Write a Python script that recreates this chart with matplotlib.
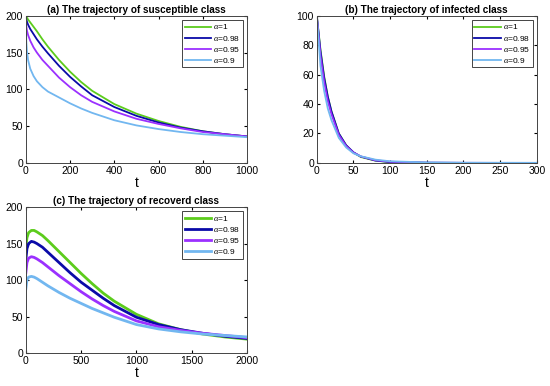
import matplotlib
matplotlib.use("Agg")
import matplotlib.pyplot as plt

plt.rcParams['font.family'] = ['Liberation Sans', 'DejaVu Sans']
plt.rcParams['mathtext.fontset'] = 'custom'
plt.rcParams['mathtext.it'] = 'Liberation Serif:italic'

# colours / labels
colors = ['#5ccc1c', '#0a0aa8', '#9b30ff', '#72b7f0']
labels = [r'$\alpha$=1', r'$\alpha$=0.98', r'$\alpha$=0.95', r'$\alpha$=0.9']

# (a) susceptible
tS = [0, 2, 5, 10, 20, 35, 50, 75, 100, 150, 200, 250, 300, 400, 500, 600, 700, 800, 900, 1000]
S1 = [200, 199, 197.5, 195, 191, 185, 179, 168, 158, 140, 124, 110, 98, 80, 67, 57, 49, 43, 39, 36]
S098 = [200, 195, 192, 188, 182, 175, 168, 158, 149, 132, 117, 104, 92, 76, 64, 55, 48, 43, 39, 36]
S095 = [200, 186, 180, 174, 166, 157, 150, 140, 132, 116, 103, 92, 83, 70, 60, 53, 47, 42, 39, 36]
S09 = [200, 165, 152, 140, 128, 118, 111, 103, 97, 89, 81, 74, 68, 58, 51, 46, 42, 39, 37, 35]

# (b) infected
tI = [0, 5, 10, 15, 20, 30, 40, 50, 60, 80, 100, 150, 200, 250, 300]
I1 = [100, 77, 59, 45, 35, 20, 12, 7, 4, 1.5, 0.5, 0.05, 0, 0, 0]
I098 = [100, 76, 58, 45, 35, 20, 12, 7.2, 4.3, 1.6, 0.6, 0.1, 0, 0, 0]
I095 = [100, 73, 55, 42, 33, 19, 11.5, 7, 4.4, 1.8, 0.8, 0.15, 0.05, 0, 0]
I09 = [100, 66, 49, 37, 29, 17, 10.5, 6.5, 4.5, 2.2, 1.1, 0.3, 0.1, 0.05, 0]

# (c) recovered
tR = [0, 10, 25, 50, 75, 100, 150, 200, 300, 400, 500, 600, 700, 800, 1000, 1200, 1400, 1600, 1800, 2000]
R1 = [145, 158, 165, 168, 168, 166, 161, 154, 139, 124, 109, 95, 82, 71, 53, 40, 32, 26, 22, 19]
R098 = [128, 143, 150, 153, 152, 150, 145, 138, 124, 110, 97, 86, 75, 65, 49, 39, 32, 27, 23, 20]
R095 = [110, 124, 130, 132, 131, 129, 124, 118, 106, 95, 84, 74, 65, 57, 44, 36, 31, 27, 24, 21]
R09 = [88, 100, 104, 105, 104, 102, 97, 92, 83, 75, 68, 61, 55, 49, 39, 33, 29, 26, 24, 22]

fig = plt.figure(figsize=(5.5, 3.86), dpi=100)
ax_a = fig.add_axes([0.047, 0.578, 0.402, 0.381])
ax_b = fig.add_axes([0.576, 0.578, 0.400, 0.381])
ax_c = fig.add_axes([0.047, 0.0855, 0.402, 0.378])

panels = [
    (ax_a, tS, [S1, S098, S095, S09], '(a) The trajectory of susceptible class', 1000, 200, 200, 50, 1.3),
    (ax_b, tI, [I1, I098, I095, I09], '(b) The trajectory of infected class', 300, 50, 100, 20, 1.3),
    (ax_c, tR, [R1, R098, R095, R09], '(c) The trajectory of recoverd class', 2000, 500, 200, 50, 2.0),
]

for ax, t, ys, title, xmax, xstep, ymax, ystep, lw in panels:
    for y, c, lab in zip(ys, colors, labels):
        ax.plot(t, y, color=c, lw=lw, label=lab)
    ax.set_xlim(0, xmax)
    ax.set_ylim(0, ymax)
    ax.set_xticks(range(0, xmax + 1, xstep))
    ax.set_yticks(range(0, ymax + 1, ystep))
    ax.tick_params(direction='in', top=True, right=True, labelsize=7.5, length=2.5, pad=2)
    ax.set_title(title, fontsize=7.2, fontweight='bold', pad=2)
    ax.set_xlabel('t', fontsize=10, labelpad=0)
    for s in ax.spines.values():
        s.set_color('#444444')
        s.set_linewidth(0.7)
    leg = ax.legend(loc='upper right', fontsize=6, handlelength=3.2, labelspacing=0.25,
                    borderpad=0.3, handletextpad=0.2, fancybox=False, framealpha=1,
                    borderaxespad=0.5)
    leg.get_frame().set_edgecolor('#444444')
    leg.get_frame().set_linewidth(0.7)

fig.savefig('out.png', dpi=100)
